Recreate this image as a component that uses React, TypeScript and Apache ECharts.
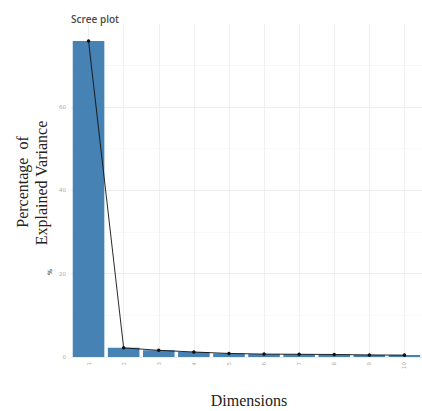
import React, { useEffect, useRef } from "react";
import * as echarts from "echarts";

const dimensions = ["1", "2", "3", "4", "5", "6", "7", "8", "9", "10"];
const variance = [75.8, 2.2, 1.6, 1.2, 0.85, 0.7, 0.65, 0.6, 0.5, 0.45];
const yTicks = [0, 20, 40, 60];

export default function App() {
  const ref = useRef<HTMLDivElement>(null);
  useEffect(() => {
    if (!ref.current) return;
    const chart = echarts.init(ref.current, null, { renderer: "svg" });
    chart.setOption({
      animation: false,
      backgroundColor: "#ffffff",
      title: {
        text: "Scree plot",
        left: 66,
        top: 9,
        textStyle: { fontFamily: "Open Sans", fontSize: 10, fontWeight: 600, color: "#4a4a4a" },
      },
      grid: { left: 71, top: 23.5, width: 354, height: 333.5 },
      xAxis: {
        type: "category",
        data: dimensions,
        boundaryGap: true,
        axisLine: { show: false },
        axisTick: { show: false },
        axisLabel: { rotate: 90, fontSize: 5.5, color: "#b0b0b0", margin: 5, fontFamily: "DejaVu Sans" },
        splitLine: { show: true, alignWithLabel: true, lineStyle: { color: "#ececec", width: 0.8 } } as any,
      },
      yAxis: {
        type: "value",
        min: 0,
        max: 80,
        interval: 20,
        axisLine: { show: false },
        axisTick: { show: false },
        axisLabel: {
          fontSize: 5.5,
          color: "#aaa",
          margin: 5,
          fontFamily: "DejaVu Sans",
          formatter: (v: number) => (yTicks.includes(v) ? String(v) : ""),
        },
        splitLine: { show: true, showMaxLine: false, lineStyle: { color: "#e8e8e8", width: 0.8 } },
        minorTick: { show: false, splitNumber: 2 },
        minorSplitLine: { show: true, lineStyle: { color: "#f4f4f4", width: 0.6 } },
      },
      series: [
        {
          type: "bar",
          data: variance,
          barCategoryGap: "10%",
          itemStyle: { color: "#4682B4" },
        },
        {
          type: "line",
          data: variance,
          symbol: "circle",
          symbolSize: 3.5,
          lineStyle: { color: "#111", width: 0.9 },
          itemStyle: { color: "#111" },
          z: 5,
        },
      ],
      graphic: [
        {
          type: "text",
          x: 22,
          y: 182,
          rotation: Math.PI / 2,
          style: {
            text: "Percentage  of",
            font: '16px "Liberation Serif"',
            fill: "#222",
            align: "center",
            verticalAlign: "middle",
            textAlign: "center",
            textVerticalAlign: "middle",
          },
        },
        {
          type: "text",
          x: 41,
          y: 183,
          rotation: Math.PI / 2,
          style: {
            text: "Explained Variance",
            font: '16px "Liberation Serif"',
            fill: "#222",
            align: "center",
            verticalAlign: "middle",
            textAlign: "center",
            textVerticalAlign: "middle",
          },
        },
        {
          type: "text",
          x: 49,
          y: 272,
          rotation: Math.PI / 2,
          style: {
            text: "%",
            font: 'bold 6px "DejaVu Sans"',
            fill: "#555",
            align: "center",
            verticalAlign: "middle",
            textAlign: "center",
            textVerticalAlign: "middle",
          },
        },
        {
          type: "text",
          x: 249,
          y: 400,
          style: {
            text: "Dimensions",
            font: '16px "Liberation Serif"',
            fill: "#222",
            align: "center",
            verticalAlign: "middle",
            textAlign: "center",
            textVerticalAlign: "middle",
          },
        },
      ],
    });
    return () => chart.dispose();
  }, []);
  return (
    <div
      ref={ref}
      style={{ position: "absolute", left: 0, top: 0, width: 422, height: 411 }}
    />
  );
}
